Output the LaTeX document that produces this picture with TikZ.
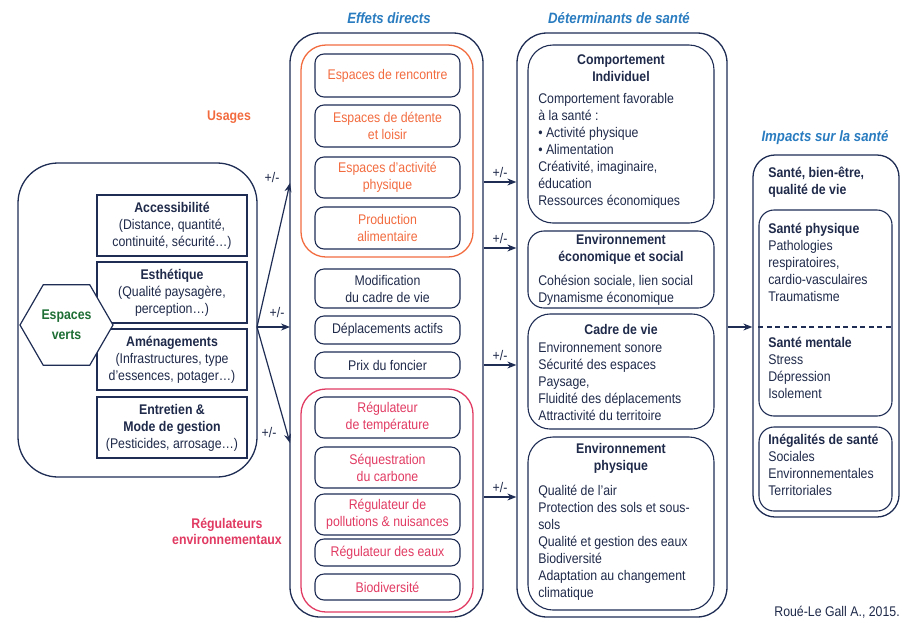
\documentclass[tikz,border=0pt]{standalone}
\usepackage{fontspec}
\setmainfont{Liberation Sans}[FakeStretch=0.88]
\usepackage{tikz}
\usetikzlibrary{arrows.meta,shapes.geometric}
\definecolor{navy}{HTML}{1F2D54}
\definecolor{ink}{HTML}{1F2A4A}
\definecolor{titleblue}{HTML}{2A7CC0}
\definecolor{usage}{HTML}{F26B3F}
\definecolor{regul}{HTML}{E13A62}
\definecolor{leaf}{HTML}{1E6E35}

\begin{document}
\begin{tikzpicture}[x=1pt, y=-1pt, >={Stealth[length=9pt,width=7pt]}, semithick,
	frame/.style={draw=navy, line width=1.3pt, inner sep=0pt},
	item/.style={draw=navy, line width=1.1pt, rounded corners=9pt, inner sep=0pt},
	trait/.style={draw=navy, line width=2pt, inner sep=0pt, fill=white},
	txt/.style={font=\fontsize{14}{17}\selectfont, text=ink, align=center, inner sep=0pt},
	body/.style={txt, align=left, anchor=north west},
	heading/.style={font=\fontsize{15}{18}\selectfont\bfseries\itshape, text=titleblue, inner sep=0pt},
	link/.style={->, draw=navy, line width=1.2pt}]
	\useasboundingbox (0,0) rectangle (902,622);
	\node[heading] at (389, 18) {Effets directs};
	\node[heading] at (619, 18) {Déterminants de santé};
	\node[heading] at (825, 138) {Impacts sur la santé};
	\node[frame, rounded corners=40pt, minimum width=239pt, minimum height=314pt] (1) at (137.5, 320) {};
	\node[trait, minimum width=150pt, minimum height=61pt] (2) at (172, 225.5) {};
	\node[trait, minimum width=150pt, minimum height=61pt] (3) at (172, 292.5) {};
	\node[trait, minimum width=150pt, minimum height=61pt] (4) at (172, 359.5) {};
	\node[trait, minimum width=150pt, minimum height=61pt] (5) at (172, 427.5) {};
	\node[txt] at (2) {\textbf{Accessibilité}\\(Distance, quantité,\\continuité, sécurité…)};
	\node[txt] at (3) {\textbf{Esthétique}\\(Qualité paysagère,\\perception…)};
	\node[txt] at (4) {\textbf{Aménagements}\\(Infrastructures, type\\d’essences, potager…)};
	\node[txt] at (5) {\textbf{Entretien \&}\\\textbf{Mode de gestion}\\(Pesticides, arrosage…)};
	\node[regular polygon, regular polygon sides=6, draw=navy, line width=1.2pt, fill=white, minimum size=93pt, inner sep=0pt] (6) at (66.5, 325) {};
	\node[txt, font=\fontsize{14}{20}\selectfont\bfseries, text=leaf] at (6) {Espaces\\verts};
	\node[frame, rounded corners=30pt, minimum width=193pt, minimum height=584pt] (7) at (386.5, 325) {};
	\node[draw=usage, line width=1.3pt, rounded corners=25pt, minimum width=172pt, minimum height=212pt] (8) at (387, 151) {};
	\node[item, minimum width=145pt, minimum height=43pt] (9) at (387.5, 75.5) {};
	\node[item, minimum width=145pt, minimum height=42pt] (10) at (387.5, 126) {};
	\node[item, minimum width=145pt, minimum height=41pt] (11) at (387.5, 177.5) {};
	\node[item, minimum width=145pt, minimum height=42pt] (12) at (387.5, 228) {};
	\node[item, minimum width=145pt, minimum height=39pt] (13) at (387.5, 288.5) {};
	\node[item, minimum width=145pt, minimum height=28pt] (14) at (387.5, 330) {};
	\node[item, minimum width=145pt, minimum height=26pt] (15) at (387.5, 365) {};
	\node[txt, text=usage] at (9) {Espaces de rencontre};
	\node[txt, text=usage] at (10) {Espaces de détente\\et loisir};
	\node[txt, text=usage] at (11) {Espaces d’activité\\physique};
	\node[txt, text=usage] at (12) {Production\\alimentaire};
	\node[txt] at (13) {Modification\\du cadre de vie};
	\node[txt] at (14) {Déplacements actifs};
	\node[txt] at (15) {Prix du foncier};
	\node[draw=regul, line width=1.3pt, rounded corners=25pt, minimum width=172pt, minimum height=223pt] (16) at (387, 500.5) {};
	\node[item, minimum width=145pt, minimum height=41pt] (17) at (387.5, 417.5) {};
	\node[item, minimum width=145pt, minimum height=41pt] (18) at (387.5, 467.5) {};
	\node[item, minimum width=145pt, minimum height=41pt] (19) at (387.5, 514.5) {};
	\node[item, minimum width=145pt, minimum height=27pt] (20) at (387.5, 552.5) {};
	\node[item, minimum width=145pt, minimum height=26pt] (21) at (387.5, 587) {};
	\node[txt, text=regul] at (17) {Régulateur\\de température};
	\node[txt, text=regul] at (18) {Séquestration\\du carbone};
	\node[txt, text=regul] at (19) {Régulateur de\\pollutions \& nuisances};
	\node[txt, text=regul] at (20) {Régulateur des eaux};
	\node[txt, text=regul] at (21) {Biodiversité};
	\node[txt, font=\fontsize{14}{17}\selectfont\bfseries, text=usage] at (229, 117) {Usages};
	\node[txt, font=\fontsize{14}{16}\selectfont\bfseries, text=regul] at (227, 531) {Régulateurs\\environnementaux};
	\node[frame, rounded corners=30pt, minimum width=210pt, minimum height=584pt] (22) at (622, 325) {};
	\node[item, rounded corners=25pt, minimum width=186pt, minimum height=178pt] (23) at (621, 134) {};
	\node[item, rounded corners=16pt, minimum width=186pt, minimum height=77pt] (24) at (621, 269.5) {};
	\node[item, rounded corners=22pt, minimum width=186pt, minimum height=115pt] (25) at (621, 371.5) {};
	\node[item, rounded corners=25pt, minimum width=186pt, minimum height=173pt] (26) at (621, 523.5) {};
	\node[txt, font=\fontsize{14}{17}\selectfont\bfseries] at (621, 68.5) {Comportement\\Individuel};
	\node[body] at (538, 91) {\strut Comportement favorable\\à la santé :\\• Activité physique\\• Alimentation\\Créativité, imaginaire,\\éducation\\Ressources économiques};
	\node[txt, font=\fontsize{14}{17}\selectfont\bfseries] at (621, 249.5) {Environnement\\économique et social};
	\node[body] at (538, 273) {\strut Cohésion sociale, lien social\\Dynamisme économique};
	\node[txt, font=\fontsize{14}{17}\selectfont\bfseries] at (621, 329) {Cadre de vie};
	\node[body] at (538, 340) {\strut Environnement sonore\\Sécurité des espaces\\Paysage,\\Fluidité des déplacements\\Attractivité du territoire};
	\node[txt, font=\fontsize{14}{17}\selectfont\bfseries] at (621, 458.5) {Environnement\\physique};
	\node[body] at (538, 483) {\strut Qualité de l’air\\Protection des sols et sous-\\sols\\Qualité et gestion des eaux\\Biodiversité\\Adaptation au changement\\climatique};
	\node[frame, rounded corners=22pt, minimum width=146pt, minimum height=362pt] (27) at (826, 336) {};
	\node[item, rounded corners=15pt, minimum width=133pt, minimum height=206pt] (28) at (825.5, 313) {};
	\node[item, rounded corners=15pt, minimum width=133pt, minimum height=84pt] (29) at (825.5, 469) {};
	\node[body, font=\fontsize{14}{17}\selectfont\bfseries] at (768, 165) {\strut Santé, bien-être,\\qualité de vie};
	\node[body] at (768, 221) {\strut\textbf{Santé physique}\\Pathologies\\respiratoires,\\cardio-vasculaires\\Traumatisme};
	\node[body] at (768, 335) {\strut\textbf{Santé mentale}\\Stress\\Dépression\\Isolement};
	\node[body] at (768, 432) {\strut\textbf{Inégalités de santé}\\Sociales\\Environnementales\\Territoriales};
	\coordinate (30) at (257, 327);
	\coordinate (31) at (290, 183);
	\coordinate (32) at (290, 327);
	\coordinate (33) at (290, 443);
	\draw[link] (30) to (31);
	\draw[link] (30) to (32);
	\draw[link] (30) to (33);
	\node[txt] at (272, 177) {+/-};
	\node[txt] at (277, 312) {+/-};
	\node[txt] at (269, 432) {+/-};
	\foreach \y in {182, 248, 365, 497}
		\draw[link] (7.east |- 0,\y) to node[txt, above=4pt] {+/-} (22.west |- 0,\y);
	\coordinate (34) at (0, 327);
	\draw[link] (22.east |- 34) to (27.west |- 34);
	\draw[navy, line width=1.1pt, dash pattern=on 5pt off 3.5pt] (28.west |- 34) to (28.east |- 34);
	\node[txt, anchor=east] at (900, 612) {Roué-Le Gall A., 2015.};
\end{tikzpicture}
\end{document}
